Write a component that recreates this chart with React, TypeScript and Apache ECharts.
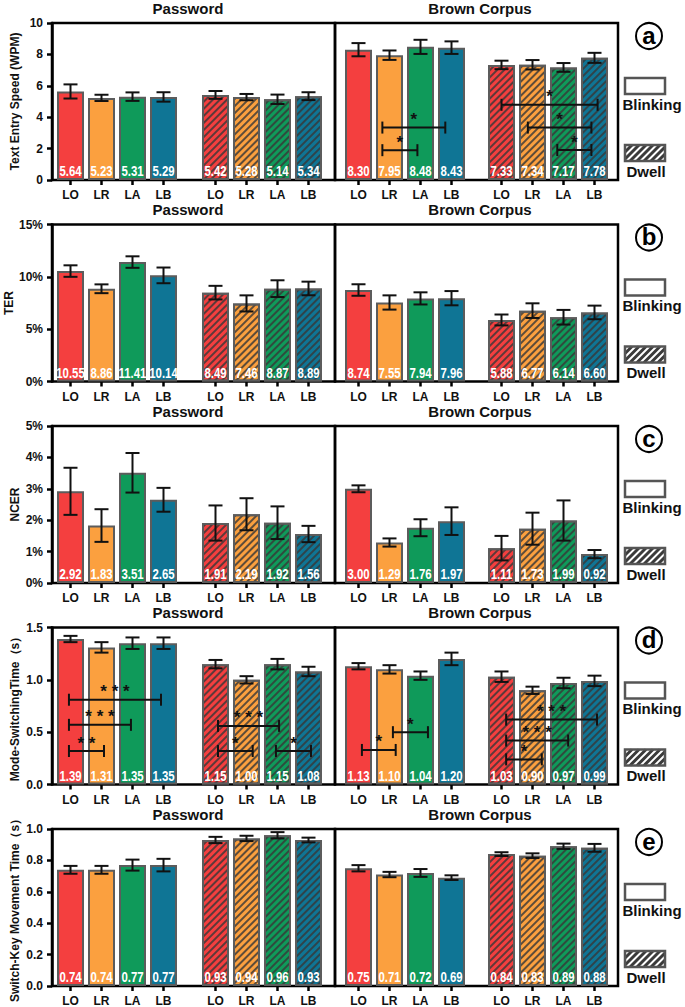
import React, { useEffect, useRef } from 'react';
import * as echarts from 'echarts';

// ---------- data ----------
const categories = ['LO', 'LR', 'LA', 'LB'];
const conditionTitles = ['Password', 'Brown Corpus'];
const legendNames = ['Blinking', 'Dwell'];
const panelLetters = ['a', 'b', 'c', 'd', 'e'];

// group order: Password-Blinking, Password-Dwell, Brown-Blinking, Brown-Dwell
const speedMeans = [[5.64, 5.23, 5.31, 5.29], [5.42, 5.28, 5.14, 5.34], [8.30, 7.95, 8.48, 8.43], [7.33, 7.34, 7.17, 7.78]];
const speedErrors = [[0.45, 0.2, 0.27, 0.3], [0.25, 0.2, 0.3, 0.25], [0.42, 0.3, 0.45, 0.4], [0.27, 0.3, 0.28, 0.32]];
const terMeans = [[10.55, 8.86, 11.41, 10.14], [8.49, 7.46, 8.87, 8.89], [8.74, 7.55, 7.94, 7.96], [5.88, 6.77, 6.14, 6.60]];
const terErrors = [[0.55, 0.42, 0.55, 0.75], [0.65, 0.77, 0.8, 0.65], [0.55, 0.68, 0.58, 0.68], [0.52, 0.7, 0.7, 0.65]];
const ncerMeans = [[2.92, 1.83, 3.51, 2.65], [1.91, 2.19, 1.92, 1.56], [3.00, 1.29, 1.76, 1.97], [1.11, 1.73, 1.99, 0.92]];
const ncerErrors = [[0.75, 0.52, 0.63, 0.38], [0.56, 0.51, 0.52, 0.26], [0.11, 0.13, 0.27, 0.44], [0.39, 0.51, 0.64, 0.13]];
const switchMeans = [[1.39, 1.31, 1.35, 1.35], [1.15, 1.00, 1.15, 1.08], [1.13, 1.10, 1.04, 1.20], [1.03, 0.90, 0.97, 0.99]];
const switchErrors = [[0.03, 0.05, 0.055, 0.055], [0.04, 0.035, 0.05, 0.045], [0.03, 0.04, 0.04, 0.06], [0.05, 0.035, 0.05, 0.05]];
const moveMeans = [[0.74, 0.74, 0.77, 0.77], [0.93, 0.94, 0.96, 0.93], [0.75, 0.71, 0.72, 0.69], [0.84, 0.83, 0.89, 0.88]];
const moveErrors = [[0.025, 0.025, 0.035, 0.04], [0.02, 0.017, 0.02, 0.015], [0.02, 0.017, 0.025, 0.015], [0.012, 0.015, 0.017, 0.025]];

// significance brackets: group, from/to category index, height (data units), mark
const speedBrackets = [
  { group: 2, from: 0.77, to: 1.9, y: 1.9, mark: '*' },
  { group: 2, from: 0.77, to: 2.8, y: 3.34, mark: '*' },
  { group: 3, from: 0.0, to: 3.1, y: 4.79, mark: '*' },
  { group: 3, from: 0.85, to: 2.9, y: 3.34, mark: '*' },
  { group: 3, from: 1.8, to: 2.9, y: 1.91, mark: '*' },
];
const switchBrackets = [
  { group: 0, from: -0.05, to: 2.92, y: 0.81, mark: '* * *' },
  { group: 0, from: -0.05, to: 1.95, y: 0.57, mark: '* * *' },
  { group: 0, from: -0.05, to: 1.08, y: 0.32, mark: '* *' },
  { group: 1, from: 0.08, to: 2.05, y: 0.56, mark: '* * *' },
  { group: 1, from: 0.08, to: 1.2, y: 0.32, mark: '*' },
  { group: 1, from: 1.95, to: 3.08, y: 0.32, mark: '*' },
  { group: 2, from: 0.11, to: 1.2, y: 0.33, mark: '*' },
  { group: 2, from: 1.11, to: 2.24, y: 0.5, mark: '*' },
  { group: 3, from: 0.15, to: 3.08, y: 0.62, mark: '* * *' },
  { group: 3, from: 0.15, to: 2.15, y: 0.42, mark: '* * *' },
  { group: 3, from: 0.15, to: 1.3, y: 0.24, mark: '*' },
];

const barColors = ['#F43F3F', '#FBA03F', '#0F9A5A', '#0F7595'];

const panels = [
  { yName: 'Text Entry Speed (WPM)', means: speedMeans, errors: speedErrors, max: 10, step: 2, tick: (v: number) => String(v), brackets: speedBrackets },
  { yName: 'TER', means: terMeans, errors: terErrors, max: 15, step: 5, tick: (v: number) => v + '%', brackets: [] as any[] },
  { yName: 'NCER', means: ncerMeans, errors: ncerErrors, max: 5, step: 1, tick: (v: number) => v + '%', brackets: [] as any[] },
  { yName: 'Mode-SwitchingTime（s）', means: switchMeans, errors: switchErrors, max: 1.5, step: 0.5, tick: (v: number) => v.toFixed(1), brackets: switchBrackets },
  { yName: 'Switch-Key Movement Time（s）', means: moveMeans, errors: moveErrors, max: 1.0, step: 0.2, tick: (v: number) => v.toFixed(1), brackets: [] as any[] },
];

// ---------- layout ----------
const FONT = '"Liberation Sans", Arial, Helvetica, sans-serif';
const TOP0 = 23;
const STEP = 201.5;
const PLOT_H = 157;
const FRAME_LEFT = [52, 335];
const FRAME_W = 283;
const GROUP_LEFT = [55, 200, 343, 486];
const GROUP_W = 124;
const LEG_X = 625;

function buildOption() {
  const grid: any[] = [];
  const xAxis: any[] = [];
  const yAxis: any[] = [];
  const series: any[] = [];
  const graphic: any[] = [];

  const decal = {
    symbol: 'rect',
    symbolSize: 1,
    color: 'rgba(55,55,55,0.8)',
    dashArrayX: [1, 0],
    dashArrayY: [2, 2.5],
    rotation: -Math.PI / 4,
  };

  panels.forEach((pn, p) => {
    const top = TOP0 + p * STEP;
    // frame grids
    FRAME_LEFT.forEach((left, f) => {
      const gi = grid.length;
      grid.push({ left, top, width: FRAME_W, height: PLOT_H, show: true, borderColor: '#000', borderWidth: 2.5, backgroundColor: 'transparent', containLabel: false, outerBoundsMode: 'none' });
      xAxis.push({ type: 'value', gridIndex: gi, show: false, min: 0, max: 1 });
      if (f === 0) {
        yAxis.push({
          type: 'value', gridIndex: gi, min: 0, max: pn.max, interval: pn.step,
          name: pn.yName, nameLocation: 'middle', nameGap: 31,
          nameTextStyle: { fontFamily: FONT, fontWeight: 'bold', fontSize: 12, color: '#111' },
          axisLine: { show: true, lineStyle: { color: '#000', width: 2.5 } },
          axisTick: { show: true, length: 5, lineStyle: { color: '#000', width: 2.5 } },
          axisLabel: { margin: 9, fontFamily: FONT, fontWeight: 'bold', fontSize: 12, color: '#111', formatter: pn.tick },
          splitLine: { show: false },
        });
      } else {
        yAxis.push({ type: 'value', gridIndex: gi, min: 0, max: pn.max, show: false, splitLine: { show: false } });
      }
      graphic.push({
        type: 'text', x: f === 0 ? 188 : 480, y: top - 15, silent: true,
        style: { text: conditionTitles[f], fill: '#111', fontFamily: FONT, fontWeight: 'bold', fontSize: 15, align: 'center', verticalAlign: 'middle', textAlign: 'center', textVerticalAlign: 'middle' },
      });
    });

    // bar groups
    GROUP_LEFT.forEach((left, g) => {
      const gi = grid.length;
      const dwell = g % 2 === 1;
      grid.push({ left, top, width: GROUP_W, height: PLOT_H, containLabel: false, outerBoundsMode: 'none' });
      xAxis.push({
        type: 'category', gridIndex: gi, data: categories,
        axisLine: { show: false },
        axisTick: { show: true, alignWithLabel: true, interval: 0, length: 5, lineStyle: { color: '#000', width: 2.5 } },
        axisLabel: { interval: 0, margin: 9, fontFamily: FONT, fontWeight: 'bold', fontSize: 12, color: '#111' },
      });
      yAxis.push({ type: 'value', gridIndex: gi, min: 0, max: pn.max, show: false, splitLine: { show: false } });

      series.push({
        type: 'bar', xAxisIndex: gi, yAxisIndex: gi, barWidth: 27, z: 2,
        data: pn.means[g].map((v, i) => ({
          value: v,
          itemStyle: { color: barColors[i], borderColor: '#5c5c5c', borderWidth: 2, decal: dwell ? decal : undefined },
        })),
      });

      const errs = pn.errors[g];
      series.push({
        type: 'custom', xAxisIndex: gi, yAxisIndex: gi, z: 5,
        encode: { x: 0, y: 1 },
        data: pn.means[g].map((m, i) => [i, m, errs[i]]),
        renderItem: (params: any, api: any) => {
          const i = api.value(0);
          const m = api.value(1);
          const e = api.value(2);
          const a = api.coord([i, m + e]);
          const b = api.coord([i, m - e]);
          const z0 = api.coord([i, 0]);
          const h = 7;
          const st = { stroke: '#111', lineWidth: 2 };
          return {
            type: 'group',
            children: [
              {
                type: 'text', x: z0[0], y: z0[1] - 1.5, scaleX: 0.76,
                style: { text: m.toFixed(2), fill: '#fff', fontFamily: FONT, fontWeight: 'bold', fontSize: 15, align: 'center', verticalAlign: 'bottom', textAlign: 'center', textVerticalAlign: 'bottom' },
              },
              { type: 'line', shape: { x1: a[0], y1: a[1], x2: b[0], y2: b[1] }, style: st },
              { type: 'line', shape: { x1: a[0] - h, y1: a[1], x2: a[0] + h, y2: a[1] }, style: st },
              { type: 'line', shape: { x1: b[0] - h, y1: b[1], x2: b[0] + h, y2: b[1] }, style: st },
            ],
          };
        },
      });

      const list = pn.brackets.filter((b: any) => b.group === g);
      if (list.length) {
        series.push({
          type: 'custom', xAxisIndex: gi, yAxisIndex: gi, z: 6,
          encode: { x: 0, y: 1 },
          data: list.map((b: any) => [0, b.y]),
          renderItem: (params: any, api: any) => {
            const b = list[params.dataIndex];
            const base = api.coord([0, api.value(1)]);
            const w = api.size([1, 0])[0];
            const x1 = base[0] + b.from * w;
            const x2 = base[0] + b.to * w;
            const y = base[1];
            const st = { stroke: '#111', lineWidth: 2 };
            return {
              type: 'group',
              children: [
                { type: 'line', shape: { x1, y1: y, x2, y2: y }, style: st },
                { type: 'line', shape: { x1, y1: y - 6, x2: x1, y2: y + 6 }, style: st },
                { type: 'line', shape: { x1: x2, y1: y - 6, x2, y2: y + 6 }, style: st },
                {
                  type: 'text', x: (x1 + x2) / 2, y: y - 8,
                  style: { text: b.mark, fill: '#111', fontFamily: FONT, fontWeight: 'bold', fontSize: 17, align: 'center', verticalAlign: 'middle', textAlign: 'center', textVerticalAlign: 'middle' },
                },
              ],
            };
          },
        });
      }
    });

    // panel letter
    graphic.push({ type: 'circle', silent: true, shape: { cx: 649, cy: top + 13, r: 13 }, style: { fill: '#fff', stroke: '#000', lineWidth: 2 } });
    graphic.push({
      type: 'text', x: 649, y: top + 12, silent: true,
      style: { text: panelLetters[p], fill: '#000', fontFamily: FONT, fontWeight: 'bold', fontSize: 24, align: 'center', verticalAlign: 'middle', textAlign: 'center', textVerticalAlign: 'middle' },
    });

    // legend: Blinking
    graphic.push({ type: 'rect', silent: true, shape: { x: LEG_X, y: top + 55, width: 40, height: 16 }, style: { fill: '#fff', stroke: '#555', lineWidth: 2.5 } });
    graphic.push({
      type: 'text', x: 652, y: top + 81, silent: true,
      style: { text: legendNames[0], fill: '#111', fontFamily: FONT, fontWeight: 'bold', fontSize: 15, align: 'center', verticalAlign: 'middle', textAlign: 'center', textVerticalAlign: 'middle' },
    });
    // legend: Dwell (hatched)
    const T = top + 122, B = T + 16, L = LEG_X, R = LEG_X + 40;
    graphic.push({ type: 'rect', silent: true, shape: { x: L, y: T, width: 40, height: 16 }, style: { fill: '#fff' } });
    for (let c = L - 16; c < R; c += 7) {
      const t0 = Math.max(0, (L - c) / 16);
      const t1 = Math.min(1, (R - c) / 16);
      if (t1 > t0) {
        graphic.push({
          type: 'line', silent: true,
          shape: { x1: c + 16 * t0, y1: B - 16 * t0, x2: c + 16 * t1, y2: B - 16 * t1 },
          style: { stroke: '#3a3a3a', lineWidth: 3 },
        });
      }
    }
    graphic.push({ type: 'rect', silent: true, shape: { x: L, y: T, width: 40, height: 16 }, style: { fill: 'none', stroke: '#555', lineWidth: 2.5 } });
    graphic.push({
      type: 'text', x: 646, y: top + 148, silent: true,
      style: { text: legendNames[1], fill: '#111', fontFamily: FONT, fontWeight: 'bold', fontSize: 15, align: 'center', verticalAlign: 'middle', textAlign: 'center', textVerticalAlign: 'middle' },
    });
  });

  return {
    animation: false,
    backgroundColor: '#fff',
    textStyle: { fontFamily: FONT },
    grid, xAxis, yAxis, series, graphic,
  };
}

export default function App() {
  const ref = useRef<HTMLDivElement>(null);
  useEffect(() => {
    document.body.style.margin = '0';
    const chart = echarts.init(ref.current as HTMLDivElement, undefined, { renderer: 'svg', width: 685, height: 1007 });
    chart.setOption(buildOption() as any);
    return () => chart.dispose();
  }, []);
  return <div ref={ref} style={{ width: 685, height: 1007 }} />;
}
